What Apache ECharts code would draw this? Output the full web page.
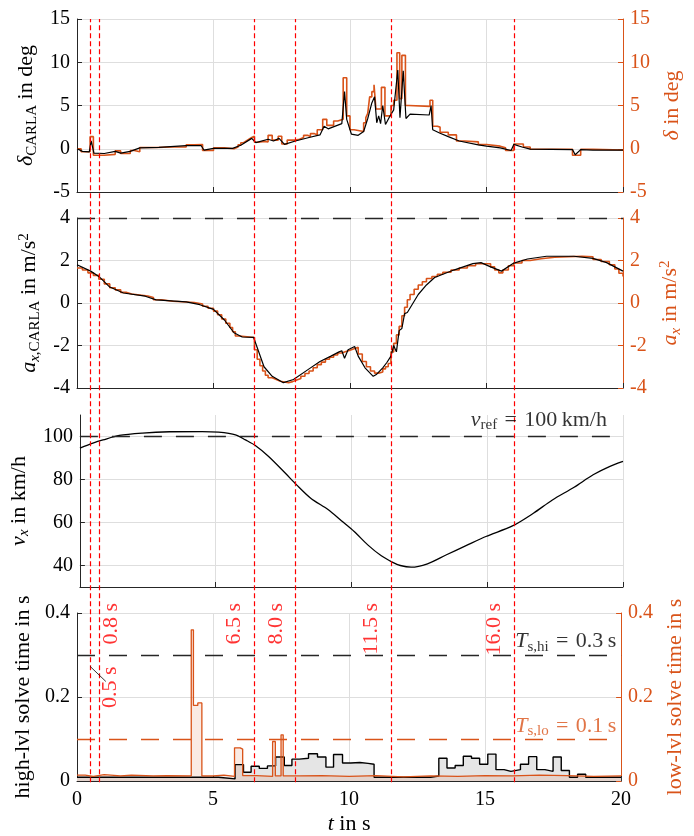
<!DOCTYPE html>
<html><head><meta charset="utf-8">
<script src="https://cdn.jsdelivr.net/npm/echarts@6/dist/echarts.min.js"></script>
<style>html,body{margin:0;padding:0;background:#fff}#c{width:694px;height:836px}</style>
</head><body><div id="c"></div>
<script>
// ---------------- data ----------------
const steeringCarla = [[0,0],[0.2,-0.3],[0.45,-0.35],[0.52,0.9],[0.62,-0.5],[1.0,-0.55],[1.4,-0.3],[1.6,-0.5],[1.95,-0.3],[2.3,0.1],[3.0,0.15],[4.0,0.35],[4.55,0.35],[4.65,-0.15],[5.0,0.05],[5.7,0.05],[6.0,0.4],[6.4,1.2],[6.55,0.7],[7.0,1.1],[7.2,0.9],[7.4,1.2],[7.6,0.5],[8.0,0.9],[8.5,1.3],[8.9,1.6],[9.05,2.6],[9.2,2.3],[9.7,2.9],[9.8,6.6],[9.88,3.4],[10.05,1.7],[10.3,1.55],[10.5,2.0],[10.65,3.5],[10.8,5.3],[10.9,6.0],[10.98,3.0],[11.05,3.8],[11.12,2.9],[11.2,5.0],[11.3,2.8],[11.45,3.7],[11.6,4.5],[11.75,9.1],[11.83,3.6],[11.95,9.0],[12.05,3.5],[12.2,4.0],[12.9,3.9],[12.97,5.0],[13.03,2.2],[13.3,1.8],[13.6,1.4],[14.0,0.9],[14.7,0.45],[15.0,0.3],[15.5,0.1],[15.9,-0.2],[16.0,0.5],[16.3,0.2],[16.6,-0.05],[18.15,-0.1],[18.25,-0.7],[18.45,-0.1],[18.9,-0.15],[20,-0.15]];
const steeringCmd = [[0,0],[0.15,-0.35],[0.48,1.4],[0.6,-0.75],[1.0,-0.65],[1.4,-0.25],[1.6,-0.55],[1.95,-0.2],[2.1,-0.35],[2.3,0.15],[2.9,0.2],[3.5,0.2],[4.0,0.45],[4.3,0.5],[4.6,-0.2],[5.0,0.1],[5.4,0.0],[5.75,0.2],[5.9,0.45],[6.0,0.7],[6.1,0.9],[6.2,1.1],[6.3,1.3],[6.4,1.45],[6.5,0.75],[6.65,0.85],[6.85,0.8],[7.0,1.55],[7.15,1.0],[7.37,1.45],[7.5,0.55],[7.7,1.0],[8.0,1.1],[8.15,1.3],[8.3,1.55],[8.45,1.4],[8.55,1.75],[8.7,1.6],[8.8,2.2],[9.0,3.4],[9.15,2.7],[9.4,3.2],[9.55,3.4],[9.75,8.2],[9.88,3.8],[10.0,2.2],[10.15,2.0],[10.5,3.0],[10.58,3.6],[10.65,4.1],[10.72,6.0],[10.8,6.6],[10.88,7.4],[10.95,4.6],[11.15,7.1],[11.28,3.8],[11.5,5.0],[11.6,5.6],[11.72,11.1],[11.82,5.8],[11.9,10.8],[12.03,5.0],[12.15,4.9],[12.93,5.6],[13.03,2.6],[13.2,2.5],[13.3,1.9],[13.6,1.6],[13.9,0.9],[14.2,0.8],[14.7,0.5],[15.0,0.3],[15.5,0.1],[15.7,-0.2],[16.0,0.55],[16.35,0.2],[16.6,-0.05],[18.15,-0.75],[18.45,-0.05],[18.9,-0.15],[20,-0.15]];
const accelCarla = [[0,1.8],[0.5,1.5],[0.8,1.25],[1.2,0.75],[1.7,0.47],[2.5,0.32],[2.9,0.15],[4.0,0.05],[4.5,-0.08],[5.0,-0.3],[5.4,-0.8],[5.75,-1.4],[6.05,-1.6],[6.47,-1.62],[6.85,-3.0],[7.15,-3.45],[7.56,-3.75],[7.93,-3.6],[8.5,-3.1],[8.9,-2.75],[9.3,-2.5],[9.6,-2.3],[9.7,-2.25],[9.8,-2.6],[9.93,-2.2],[10.17,-2.05],[10.3,-2.5],[10.55,-3.05],[10.85,-3.45],[10.98,-3.35],[11.2,-3.05],[11.35,-2.8],[11.5,-2.5],[11.6,-2.0],[11.7,-2.3],[11.8,-1.3],[11.9,-1.2],[12.0,-0.5],[12.1,-0.45],[12.5,0.4],[12.8,0.85],[13.1,1.2],[13.8,1.55],[14.5,1.85],[14.8,1.9],[15.15,1.7],[15.55,1.5],[16.0,1.88],[16.5,2.07],[17.2,2.2],[18.2,2.2],[18.9,2.1],[19.4,1.9],[20,1.5]];
const accelCmd = [[0,1.65],[0.2,1.55],[0.4,1.42],[0.6,1.3],[0.8,1.12],[1.0,0.9],[1.2,0.72],[1.4,0.62],[1.6,0.5],[1.8,0.42],[2.0,0.38],[2.3,0.33],[2.6,0.26],[2.8,0.15],[3.1,0.08],[3.5,0.05],[4.0,0.02],[4.3,-0.05],[4.6,-0.15],[4.8,-0.25],[5.0,-0.38],[5.15,-0.55],[5.3,-0.75],[5.45,-0.95],[5.6,-1.15],[5.7,-1.35],[5.8,-1.55],[5.95,-1.62],[6.5,-2.2],[6.6,-2.65],[6.7,-2.95],[6.8,-3.2],[6.9,-3.4],[7.0,-3.52],[7.15,-3.6],[7.3,-3.68],[7.45,-3.72],[7.6,-3.75],[7.75,-3.7],[7.9,-3.62],[8.05,-3.55],[8.2,-3.45],[8.35,-3.32],[8.5,-3.2],[8.65,-3.05],[8.8,-2.9],[8.95,-2.78],[9.1,-2.65],[9.25,-2.55],[9.4,-2.45],[9.55,-2.35],[9.7,-2.28],[9.85,-2.22],[10.0,-2.15],[10.15,-2.08],[10.3,-2.4],[10.45,-2.75],[10.6,-3.0],[10.75,-3.2],[10.9,-3.3],[11.05,-3.25],[11.2,-3.1],[11.3,-3.0],[11.4,-2.85],[11.5,-2.3],[11.6,-1.9],[11.7,-1.5],[11.8,-1.1],[11.9,-0.6],[12.0,-0.2],[12.1,0.15],[12.2,0.4],[12.35,0.65],[12.5,0.85],[12.65,1.0],[12.8,1.15],[13.0,1.25],[13.2,1.35],[13.4,1.45],[13.7,1.55],[14.0,1.65],[14.3,1.75],[14.6,1.85],[15.0,1.85],[15.15,1.7],[15.3,1.55],[15.45,1.42],[15.6,1.55],[15.8,1.75],[16.0,1.88],[16.3,2.0],[16.6,2.08],[17.0,2.15],[17.5,2.2],[18.5,2.18],[18.9,2.05],[19.2,1.95],[19.5,1.8],[19.7,1.6],[19.85,1.4],[20,1.25]];
const speed = [[0,94.6],[0.48,96.9],[0.85,98.4],[1.45,100.5],[2.3,101.6],[3.3,102.2],[4.5,102.3],[5.1,102],[5.73,100.8],[6.1,98.4],[6.46,95.8],[6.95,90.7],[7.56,83],[7.98,77.5],[8.5,71.3],[9.15,65.9],[9.63,60.8],[10.1,55.8],[10.6,49.6],[11.1,44.5],[11.5,41.6],[11.8,40],[12.2,39.2],[12.8,40.8],[13.5,45],[14.2,49.1],[14.95,53.5],[15.93,58.4],[16.7,64.3],[17.4,70.5],[18.2,76.4],[18.9,82.2],[19.5,86],[20,88.4]];
const solveHigh = [[0,0.009],[5.2,0.005],[5.81,0.039],[6.12,0.021],[6.4,0.035],[6.7,0.030],[7.0,0.036],[7.3,0.057],[7.62,0.037],[7.9,0.052],[8.17,0.054],[8.51,0.065],[8.84,0.057],[9.15,0.033],[9.43,0.063],[9.76,0.043],[10.06,0.044],[10.4,0.042],[10.7,0.040],[10.92,0.009],[13.0,0.012],[13.3,0.054],[13.6,0.031],[13.9,0.037],[14.2,0.059],[14.5,0.054],[14.8,0.040],[15.1,0.064],[15.4,0.027],[15.7,0.023],[15.95,0.027],[16.3,0.040],[16.6,0.058],[16.9,0.027],[17.2,0.023],[17.5,0.057],[17.8,0.025],[18.1,0.009],[18.4,0.016],[18.7,0.009],[20,0.009]];
const solveLow = [[0,0.014],[0.3,0.011],[0.6,0.015],[1.0,0.012],[1.6,0.014],[2.0,0.012],[2.8,0.013],[3.3,0.012],[4.2,0.36],[4.28,0.18],[4.44,0.186],[4.59,0.012],[5.0,0.014],[5.4,0.011],[5.79,0.079],[6.0,0.076],[6.09,0.013],[6.6,0.011],[7.19,0.094],[7.29,0.012],[7.5,0.11],[7.58,0.012],[8.2,0.013],[9.0,0.011],[10.0,0.013],[11.0,0.010],[12.0,0.012],[13.0,0.011],[14.0,0.013],[15.0,0.012],[16.0,0.014],[17.0,0.013],[18.0,0.011],[19.0,0.012],[20,0.012]];
const eventTimes = [0.5, 0.8, 6.5, 8.0, 11.5, 16.0];
const eventLabels = ['0.5 s', '0.8 s', '6.5 s', '8.0 s', '11.5 s', '16.0 s'];
const vRef = 100, TsHi = 0.3, TsLo = 0.1, aMax = 4;

// ---------------- styling ----------------
const F = 'Liberation Serif';
const OR = '#D95319';
const AX = '#262626';
const GR = '#dedede';
const FS = 20;
const NS = 22;
const SP = '\u2004';

function rich(color, fs) {
  const s = Math.round(fs * 0.7);
  return {
    n: {color, fontFamily: F, fontSize: fs, lineHeight: 26, verticalAlign: 'middle'},
    i: {color, fontFamily: F, fontSize: fs, fontStyle: 'italic', lineHeight: 26, verticalAlign: 'middle'},
    sub: {color, fontFamily: F, fontSize: s, lineHeight: s + 2, verticalAlign: 'bottom'},
    subi: {color, fontFamily: F, fontSize: s, fontStyle: 'italic', lineHeight: s + 2, verticalAlign: 'bottom'},
    sup: {color, fontFamily: F, fontSize: s, lineHeight: s + 2, verticalAlign: 'top'}
  };
}

const grids = [
  {left: 77, right: 71, top: 19, height: 173},
  {left: 77, right: 71, top: 218, height: 170},
  {left: 77, right: 71, top: 415, height: 172},
  {left: 77, right: 71, top: 613, height: 169.3},
  {left: 77, right: 71, top: 19, height: 763.3}
];

function xAx(i, labels) {
  const o = {gridIndex: i, type: 'value', min: 0, max: 20, interval: 5,
    axisLine: {onZero: false, lineStyle: {color: AX, width: 1}},
    axisTick: {inside: true, length: 5, lineStyle: {color: AX}},
    axisLabel: {show: labels, color: '#000', fontFamily: F, fontSize: FS, margin: 9},
    splitLine: {show: true, lineStyle: {color: GR, width: 1}}};
  if (labels) {
    o.name = '{i|t}{n| in s}';
    o.nameLocation = 'middle';
    o.nameGap = 30;
    o.nameTextStyle = {rich: rich('#000', NS)};
  }
  return o;
}
function yAx(i, pos, min, max, interval, name, color, gap, split) {
  return {gridIndex: i, type: 'value', position: pos, min, max, interval,
    name, nameLocation: 'middle', nameRotate: 90, nameGap: gap,
    nameTextStyle: {rich: rich(color, NS)},
    axisLine: {show: true, onZero: false, lineStyle: {color: color === '#000' ? AX : color, width: 1}},
    axisTick: {show: true, inside: true, length: 5, lineStyle: {color: color === '#000' ? AX : color}},
    axisLabel: {color, fontFamily: F, fontSize: FS, margin: 7},
    splitLine: {show: split, lineStyle: {color: GR, width: 1}}};
}

const yAxes = [
  yAx(0, 'left', -5, 15, 5, '{i|δ}{sub|CARLA}{n| in deg}', '#000', 22, true),
  yAx(0, 'right', -5, 15, 5, '{i|δ}{n| in deg}', OR, 26, false),
  yAx(1, 'left', -4, 4, 2, '{i|a}{subi|x}{sub|,CARLA}{n| in m/s}{sup|2}', '#000', 22, true),
  yAx(1, 'right', -4, 4, 2, '{i|a}{subi|x}{n| in m/s}{sup|2}', OR, 24, false),
  Object.assign(yAx(2, 'left', 30, 110, null, '{i|v}{subi|x}{n| in km/h}', '#000', 31, true), {
    axisLabel: {color: '#000', fontFamily: F, fontSize: FS, margin: 7, customValues: [40, 60, 80, 100]},
    axisTick: {show: true, inside: true, length: 5, lineStyle: {color: AX}, customValues: [40, 60, 80, 100]}
  }),
  yAx(3, 'left', 0, 0.4, 0.2, '{n|high-lvl solve time in s}', '#000', 33, true),
  yAx(3, 'right', 0, 0.4, 0.2, '{n|low-lvl solve time in s}', OR, 33, false),
  {gridIndex: 4, type: 'value', min: 0, max: 1, show: false}
];

const dashBlack = {color: AX, type: [18, 14], width: 1.3};
const dashOrange = {color: OR, type: [18, 14], width: 1.3};
function hLine(v, style) {
  return {symbol: ['none', 'none'], silent: true, label: {show: false}, lineStyle: style,
    emphasis: {disabled: true}, data: [{yAxis: v}]};
}
function note(xi, yi, pos, text, color, align, rot, fs) {
  return {type: 'scatter', xAxisIndex: xi, yAxisIndex: yi, clip: false, silent: true,
    symbolSize: 1, itemStyle: {color: 'transparent'}, z: 20,
    data: [pos],
    label: {show: true, position: 'inside', formatter: text, align, verticalAlign: 'middle',
      rotate: rot || 0, color, fontFamily: F, fontSize: fs || NS, rich: rich(color, fs || NS)}};
}

const eventLabelAnchors = [[1.22, 0.273], [1.25, 0.424], [5.79, 0.424], [7.31, 0.424], [10.82, 0.424], [15.33, 0.424]];

const series = [
  {type: 'line', xAxisIndex: 0, yAxisIndex: 0, data: steeringCarla, showSymbol: false, lineStyle: {color: '#000', width: 1.2}, z: 3},
  {type: 'line', xAxisIndex: 0, yAxisIndex: 1, data: steeringCmd, step: 'end', showSymbol: false, lineStyle: {color: OR, width: 1.6}, z: 2},
  {type: 'line', xAxisIndex: 1, yAxisIndex: 2, data: accelCarla, showSymbol: false, lineStyle: {color: '#000', width: 1.2}, z: 3,
    markLine: hLine(aMax, dashBlack)},
  {type: 'line', xAxisIndex: 1, yAxisIndex: 3, data: accelCmd, step: 'end', showSymbol: false, lineStyle: {color: OR, width: 1.6}, z: 2},
  {type: 'line', xAxisIndex: 2, yAxisIndex: 4, data: speed, smooth: 0.3, showSymbol: false, lineStyle: {color: '#000', width: 1.3},
    markLine: hLine(vRef, dashBlack)},
  {type: 'line', xAxisIndex: 3, yAxisIndex: 5, data: solveHigh, step: 'end', showSymbol: false,
    lineStyle: {color: '#000', width: 1.4}, areaStyle: {color: '#e5e5e5', opacity: 1},
    markLine: hLine(TsHi, dashBlack)},
  {type: 'line', xAxisIndex: 3, yAxisIndex: 6, data: solveLow, step: 'end', showSymbol: false,
    lineStyle: {color: OR, width: 1.3}, areaStyle: {color: OR, opacity: 0.12},
    markLine: hLine(TsLo, dashOrange)},
  {type: 'line', xAxisIndex: 4, yAxisIndex: 7, data: [[0, 0]], showSymbol: false, lineStyle: {width: 0}, z: 6, silent: true,
    markLine: {symbol: ['none', 'none'], silent: true, label: {show: false},
      lineStyle: {color: '#ff0000', type: [5, 3], width: 1.2},
      data: eventTimes.map(t => ({xAxis: t}))}},
  {type: 'line', xAxisIndex: 3, yAxisIndex: 5, data: [[0.48, 0.273], [1.06, 0.237]], showSymbol: false,
    lineStyle: {color: '#000', width: 0.8}, silent: true, z: 7},
  note(2, 4, [19.41, 107.8], '{i|v}{sub|ref}{n|' + SP + '=' + SP + '100' + '\u2009' + 'km/h}', '#000', 'right'),
  note(3, 5, [19.82, 0.332], '{i|T}{sub|s,hi}{n|' + SP + '=' + SP + '0.3' + '\u2009' + 's}', '#000', 'right'),
  note(3, 5, [19.82, 0.131], '{i|T}{sub|s,lo}{n|' + SP + '=' + SP + '0.1' + '\u2009' + 's}', OR, 'right')
];
eventLabels.forEach((txt, k) => {
  series.push(note(3, 5, eventLabelAnchors[k], '{r|' + txt + '}', '#ff0000', 'right', 90));
  series[series.length - 1].label.rich.r = {color: '#ff0000', fontFamily: F, fontSize: 22};
});

const chart = echarts.init(document.getElementById('c'), null, {renderer: 'canvas'});
chart.setOption({
  animation: false,
  backgroundColor: '#fff',
  grid: grids,
  xAxis: [xAx(0, false), xAx(1, false), xAx(2, false), xAx(3, true),
    {gridIndex: 4, type: 'value', min: 0, max: 20, show: false}],
  yAxis: yAxes,
  series
});
</script></body></html>
